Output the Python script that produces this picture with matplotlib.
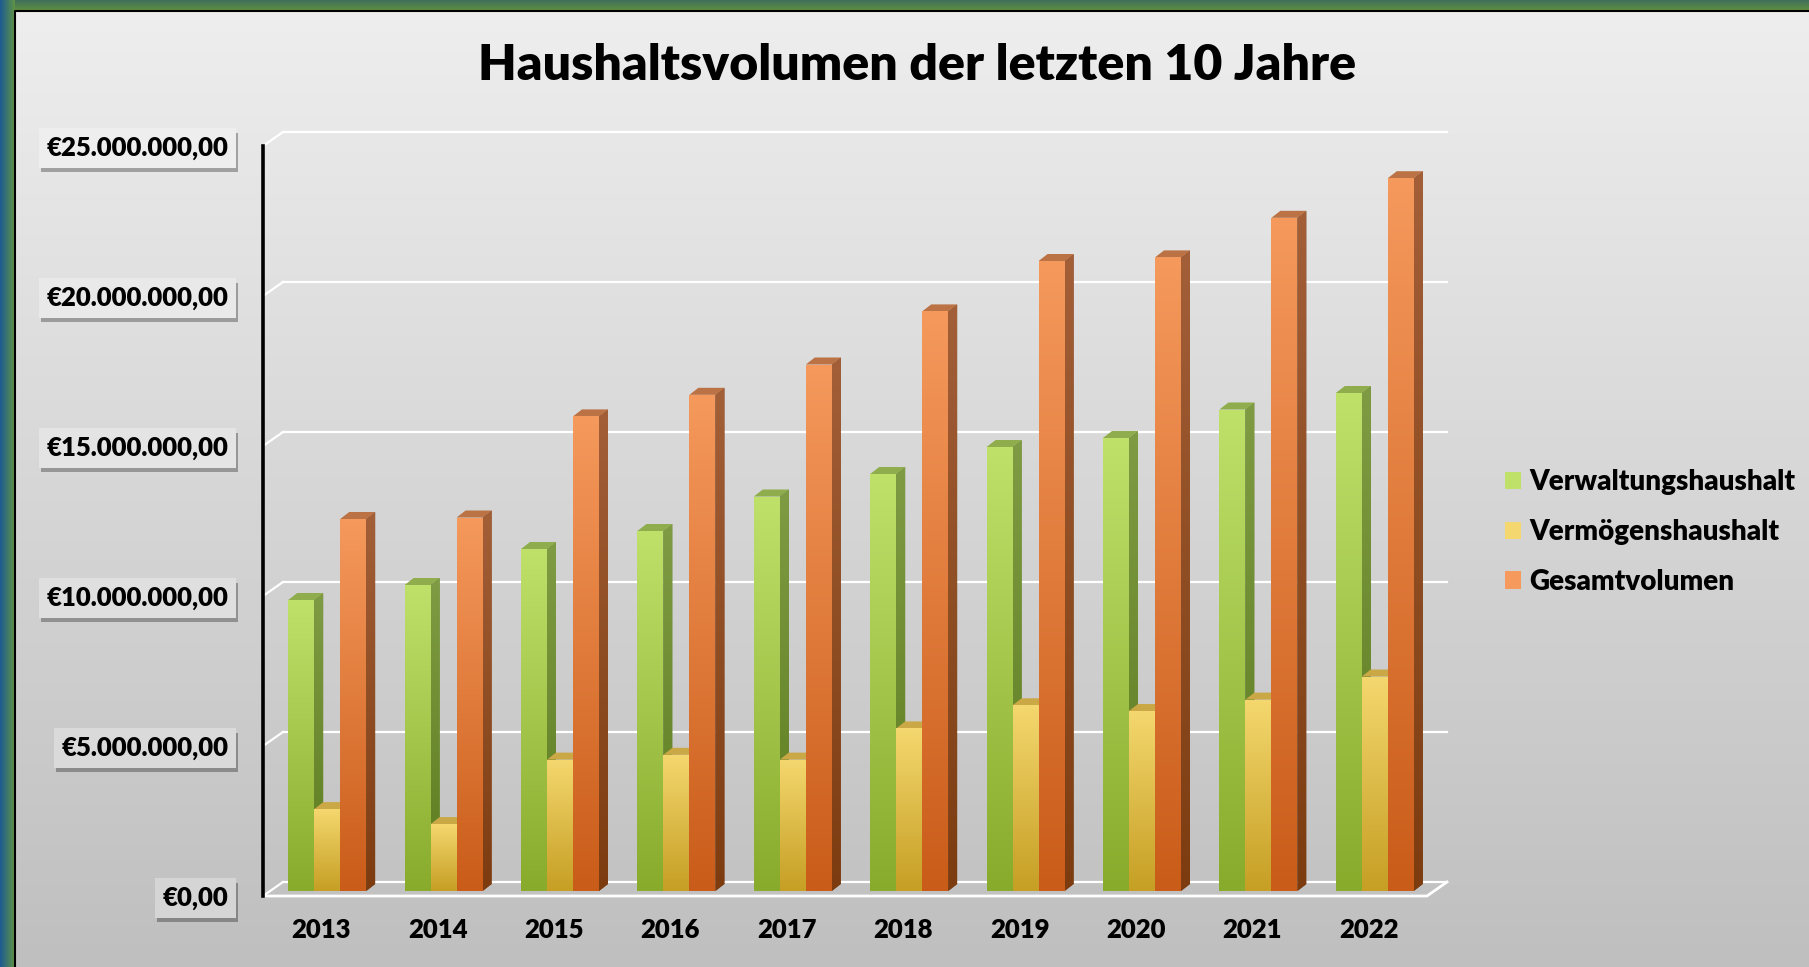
import numpy as np
import matplotlib
matplotlib.use("Agg")
import matplotlib.pyplot as plt
from matplotlib.patches import Polygon, Patch
from matplotlib import patheffects
from matplotlib.colors import to_rgb

# data (euro)
years = ["2013", "2014", "2015", "2016", "2017", "2018", "2019", "2020", "2021", "2022"]
verwaltung = [9.70e6, 10.20e6, 11.40e6, 12.00e6, 13.15e6, 13.90e6, 14.80e6, 15.10e6, 16.05e6, 16.60e6]
vermoegen = [2.73e6, 2.23e6, 4.38e6, 4.54e6, 4.38e6, 5.42e6, 6.19e6, 6.00e6, 6.38e6, 7.15e6]
gesamt = [12.40e6, 12.45e6, 15.82e6, 16.54e6, 17.55e6, 19.32e6, 21.00e6, 21.12e6, 22.44e6, 23.76e6]
series_names = ["Verwaltungshaushalt", "Vermögenshaushalt", "Gesamtvolumen"]
y_ticks = [0, 5e6, 10e6, 15e6, 20e6, 25e6]
title = "Haushaltsvolumen der letzten 10 Jahre"

# colours: front top, front bottom, side top, side bottom, cap
colours = [
    ("#bfe16a", "#88ab2c", "#7f9c44", "#5b7a1c", "#8fad4c"),
    ("#f4d76e", "#c69f24", "#b99c40", "#977714", "#caa846"),
    ("#f5995c", "#ca5c19", "#a35f38", "#7c3c10", "#bb7244"),
]

FONT = "Lato"
HEAVY = "heavy"
W, H = 1809, 967
fig = plt.figure(figsize=(W / 100, H / 100), dpi=100)

# background and green frame
bg = fig.add_axes([0, 0, 1, 1])
bg.set_xlim(0, W)
bg.set_ylim(H, 0)
bg.axis("off")
top_c = np.array(to_rgb("#eeeeee"))
bot_c = np.array(to_rgb("#bfbfbf"))
t = np.linspace(0, 1, 256)[:, None, None]
bg.imshow(top_c * (1 - t) + bot_c * t, extent=[15, W, H, 11], aspect="auto")
t = np.linspace(0, 1, 32)[:, None, None]
bg.imshow(np.array(to_rgb("#3f6f5a")) * (1 - t) + np.array(to_rgb("#5f9140")) * t,
          extent=[0, W, 11, 0], aspect="auto")
t = np.linspace(0, 1, 32)[None, :, None]
bg.imshow(np.array(to_rgb("#1d5a92")) * (1 - t) + np.array(to_rgb("#5f9445")) * t,
          extent=[0, 15, H, 0], aspect="auto")
bg.plot([14.5, 14.5, W], [H, 10.5, 10.5], color="black", lw=1.5)


def bg_at(ypix):
    f = (ypix - 11) / (H - 11)
    return top_c * (1 - f) + bot_c * f


# main axes: front floor spans x 263..1427 px, y 896..146 px
ax = fig.add_axes([263 / W, (H - 896) / H, 1164 / W, 750 / H])
ax.patch.set_alpha(0)
px_x = 1 / 116.4
px_y = 25e6 / 750
back_x, back_y = 20 * px_x, 14 * px_y

for v in y_ticks:
    ax.plot([-0.5 + back_x, 9.5 + back_x], [v + back_y, v + back_y], color="white", lw=1.6, zorder=1, clip_on=False)
    ax.plot([-0.5, -0.5 + back_x], [v, v + back_y], color="white", lw=1.6, zorder=1, clip_on=False)
ax.plot([-0.5, 9.5, 9.5 + back_x], [0, 0, back_y], color="white", lw=2, zorder=1, clip_on=False)

bw = 26 * px_x
off_x, off_y = 6 * px_x, 5 * px_y
dx, dy = 9 * px_x, 7 * px_y


def vgrad(c_top, c_bot):
    a, b = np.array(to_rgb(c_top)), np.array(to_rgb(c_bot))
    s = np.linspace(0, 1, 128)[:, None, None]
    return a * (1 - s) + b * s


for j, vals in enumerate([verwaltung, vermoegen, gesamt]):
    ft, fb, st, sb, cap = colours[j]
    xs = np.arange(len(years)) + off_x + (j - 1) * bw
    bars = ax.bar(xs, vals, width=bw, bottom=off_y, color=fb, zorder=2 + j + 0.3)
    for bar, val in zip(bars, vals):
        x0 = bar.get_x()
        x1 = x0 + bw
        y0 = off_y
        y1 = off_y + val
        side = Polygon([(x1, y0), (x1 + dx, y0 + dy), (x1 + dx, y1 + dy), (x1, y1)],
                       closed=True, fc=sb, ec="none", zorder=2 + j + 0.1)
        ax.add_patch(side)
        im = ax.imshow(vgrad(st, sb), extent=[x1, x1 + dx, y0, y1 + dy], aspect="auto",
                       zorder=2 + j + 0.15, interpolation="bilinear")
        im.set_clip_path(side)
        ax.add_patch(Polygon([(x0, y1), (x1, y1), (x1 + dx, y1 + dy), (x0 + dx, y1 + dy)],
                             closed=True, fc=cap, ec="none", zorder=2 + j + 0.2))
        im = ax.imshow(vgrad(ft, fb), extent=[x0, x1, y0, y1], aspect="auto",
                       zorder=2 + j + 0.35, interpolation="bilinear")
        im.set_clip_path(bar)

ax.set_xlim(-0.5, 9.5)
ax.set_ylim(0, 25e6)
for s in ["top", "right", "bottom"]:
    ax.spines[s].set_visible(False)
ax.spines["left"].set_color("black")
ax.spines["left"].set_linewidth(2.6)
ax.spines["left"].set_zorder(8)


def euro(v):
    s = f"{v:,.2f}".replace(",", "X").replace(".", ",").replace("X", ".")
    return "€" + s


ax.set_yticks(y_ticks)
ax.set_yticklabels([euro(v) for v in y_ticks])
ax.set_xticks(range(len(years)))
ax.set_xticklabels(years)
ax.tick_params(axis="y", length=0, pad=25)
ax.tick_params(axis="x", length=0, pad=16)
for lab in ax.get_xticklabels() + ax.get_yticklabels():
    lab.set_fontfamily(FONT)
    lab.set_fontweight(HEAVY)
    lab.set_fontsize(18.5)
    lab.set_color("black")

for v, lab in zip(y_ticks, ax.get_yticklabels()):
    ypix = 896 - v / px_y
    box_c = bg_at(ypix) * 0.7 + 0.3
    lab.set_bbox(dict(boxstyle="square,pad=0.3", fc=box_c, ec="none"))
    lab.get_bbox_patch().set_path_effects([
        patheffects.SimplePatchShadow(offset=(1.5, -3), shadow_rgbFace="black", alpha=0.3),
        patheffects.Normal()])

fig.text(917 / W, 1 - 65 / H, title, ha="center", va="center",
         fontsize=36, fontweight=HEAVY, family=FONT)

handles = [Patch(facecolor=c[0], edgecolor="none") for c in colours]
fig.legend(handles, series_names, loc="center left", bbox_to_anchor=(1505 / W, (H - 532) / H),
           frameon=False, prop=dict(family=FONT, weight=HEAVY, size=20),
           handlelength=0.58, handleheight=0.58, handletextpad=0.3,
           labelspacing=0.86, borderpad=0, borderaxespad=0)

fig.savefig("out.png", dpi=100)
